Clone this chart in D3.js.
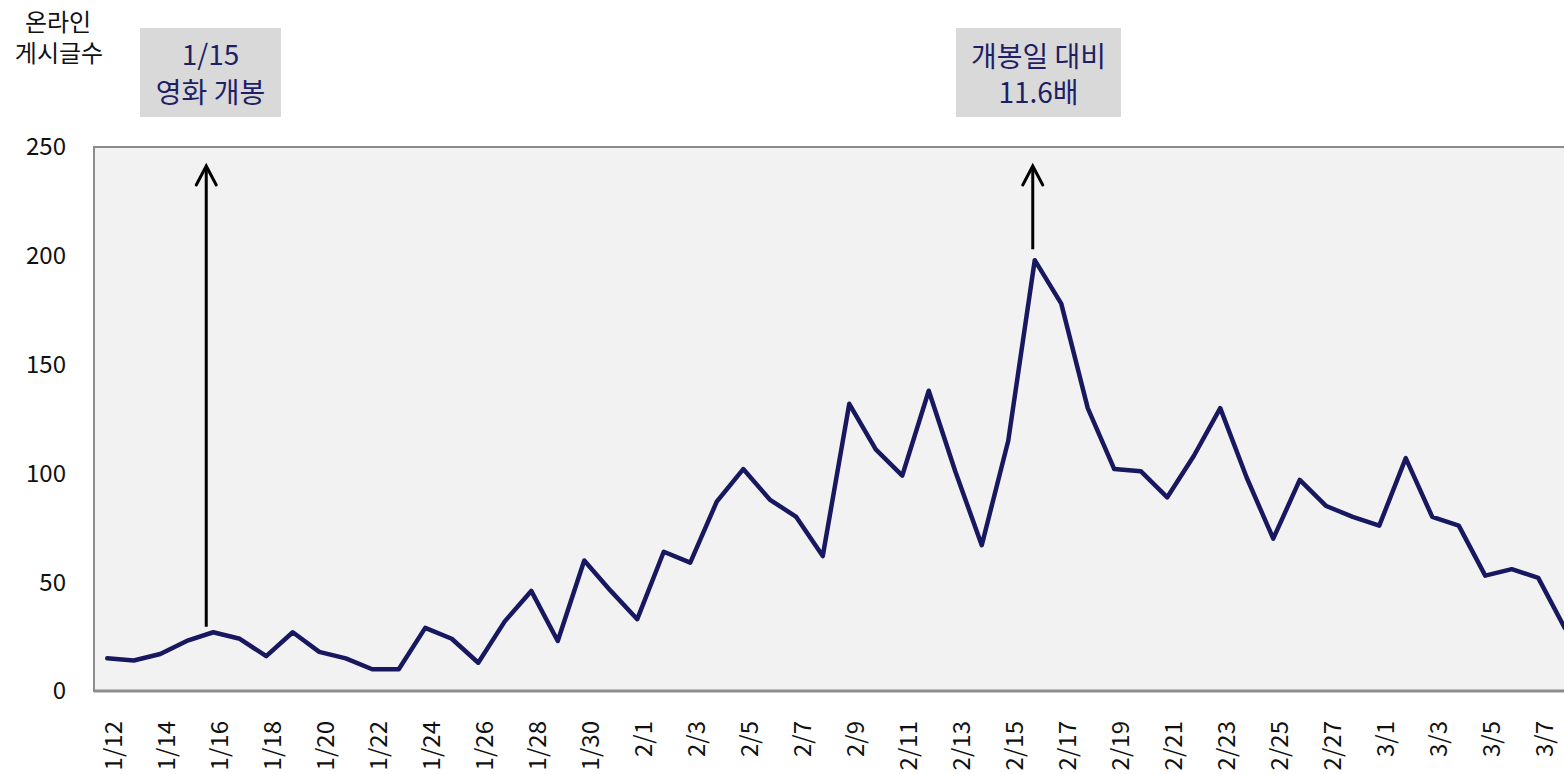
<!DOCTYPE html>
<head>
    <meta charset="utf-8">
    <script src="https://d3js.org/d3.v7.min.js"></script>
    <style>
        body {
            margin: 0;
            font-family: "Noto Sans CJK KR", "Noto Sans", sans-serif;
            background: #fff;
        }
        .tick-label {
            font-size: 24px;
            fill: #111;
        }
        .note {
            font-size: 28px;
            fill: #1f1f66;
        }
    </style>
</head>
<body>
<div id="vis"></div>
<script>
    // dates (1/12 ~ 3/8)
    var dates = ["1/12","1/13","1/14","1/15","1/16","1/17","1/18","1/19","1/20","1/21",
                 "1/22","1/23","1/24","1/25","1/26","1/27","1/28","1/29","1/30","1/31",
                 "2/1","2/2","2/3","2/4","2/5","2/6","2/7","2/8","2/9","2/10",
                 "2/11","2/12","2/13","2/14","2/15","2/16","2/17","2/18","2/19","2/20",
                 "2/21","2/22","2/23","2/24","2/25","2/26","2/27","2/28","3/1","3/2",
                 "3/3","3/4","3/5","3/6","3/7","3/8"];

    // online posts per day
    var posts = [15, 14, 17, 23, 27, 24, 16, 27, 18, 15,
                 10, 10, 29, 24, 13, 32, 46, 23, 60, 46,
                 33, 64, 59, 87, 102, 88, 80, 62, 132, 111,
                 99, 138, 101, 67, 115, 198, 178, 130, 102, 101,
                 89, 108, 130, 98, 70, 97, 85, 80, 76, 107,
                 80, 76, 53, 56, 52, 29];

    var yTicks = [0, 50, 100, 150, 200, 250];

    var width = 1564, height = 774;
    var plotLeft = 94, plotTop = 147, plotBottom = 691;

    var svg = d3.select("#vis").append("svg")
        .attr("width", width)
        .attr("height", height);

    var x = d3.scalePoint()
        .domain(dates)
        .range([plotLeft, plotLeft + dates.length * 26.5])
        .padding(0.5);

    var y = d3.scaleLinear()
        .domain([0, 250])
        .range([plotBottom, plotTop]);

    // plot area
    svg.append("rect")
        .attr("x", plotLeft)
        .attr("y", plotTop)
        .attr("width", x.range()[1] - plotLeft)
        .attr("height", plotBottom - plotTop)
        .attr("fill", "#f2f2f2")
        .attr("stroke", "#8c8c8c")
        .attr("stroke-width", 2);

    svg.append("line")
        .attr("x1", plotLeft).attr("x2", width)
        .attr("y1", plotBottom).attr("y2", plotBottom)
        .attr("stroke", "#8c8c8c")
        .attr("stroke-width", 3);

    // y tick labels
    svg.selectAll(".ylab")
        .data(yTicks)
        .enter().append("text")
        .attr("class", "tick-label")
        .attr("x", 66)
        .attr("y", function(d) { return y(d); })
        .attr("dy", "0.35em")
        .attr("text-anchor", "end")
        .text(function(d) { return d; });

    // x tick labels, every other day
    svg.selectAll(".xlab")
        .data(dates.filter(function(d, i) { return i % 2 == 0; }))
        .enter().append("text")
        .attr("class", "tick-label")
        .attr("text-anchor", "end")
        .attr("transform", function(d) { return "translate(" + (x(d) + 6) + "," + (plotBottom + 30) + ") rotate(-90)"; })
        .attr("dy", "0.35em")
        .text(function(d) { return d; });

    // y axis title
    svg.append("text")
        .attr("x", 58).attr("y", 31)
        .attr("text-anchor", "middle")
        .style("font-size", "24px").style("fill", "#111")
        .text("온라인");
    svg.append("text")
        .attr("x", 59).attr("y", 62)
        .attr("text-anchor", "middle")
        .style("font-size", "24px").style("fill", "#111")
        .text("게시글수");

    // line
    var line = d3.line()
        .x(function(d, i) { return x(dates[i]); })
        .y(function(d) { return y(d); });

    svg.append("path")
        .datum(posts)
        .attr("d", line)
        .attr("fill", "none")
        .attr("stroke", "#181860")
        .attr("stroke-width", 4.5)
        .attr("stroke-linejoin", "round")
        .attr("stroke-linecap", "round");

    // arrows
    function arrow(ax, y1, y2) {
        svg.append("line")
            .attr("x1", ax).attr("x2", ax)
            .attr("y1", y1).attr("y2", y2 + 1)
            .attr("stroke", "#000").attr("stroke-width", 3);
        svg.append("path")
            .attr("d", "M" + (ax - 10) + "," + (y2 + 19) + "L" + ax + "," + y2 + "L" + (ax + 10) + "," + (y2 + 19))
            .attr("fill", "none")
            .attr("stroke", "#000").attr("stroke-width", 3)
            .attr("stroke-linecap", "round");
    }
    arrow(x("1/16") - 7, y(29.5), 166);
    arrow(x("2/16") - 2, y(203), 166);

    // note boxes
    function note(cx, w, lines, base) {
        svg.append("rect")
            .attr("x", cx - w / 2).attr("y", 28)
            .attr("width", w).attr("height", 89)
            .attr("fill", "#d9d9d9");
        lines.forEach(function(t, i) {
            svg.append("text")
                .attr("class", "note")
                .attr("x", cx).attr("y", base[i])
                .attr("text-anchor", "middle")
                .text(t);
        });
    }
    note(210.5, 141, ["1/15", "영화 개봉"], [65, 103]);
    note(1038.5, 165, ["개봉일 대비", "11.6배"], [67, 103]);
</script>
</body>
